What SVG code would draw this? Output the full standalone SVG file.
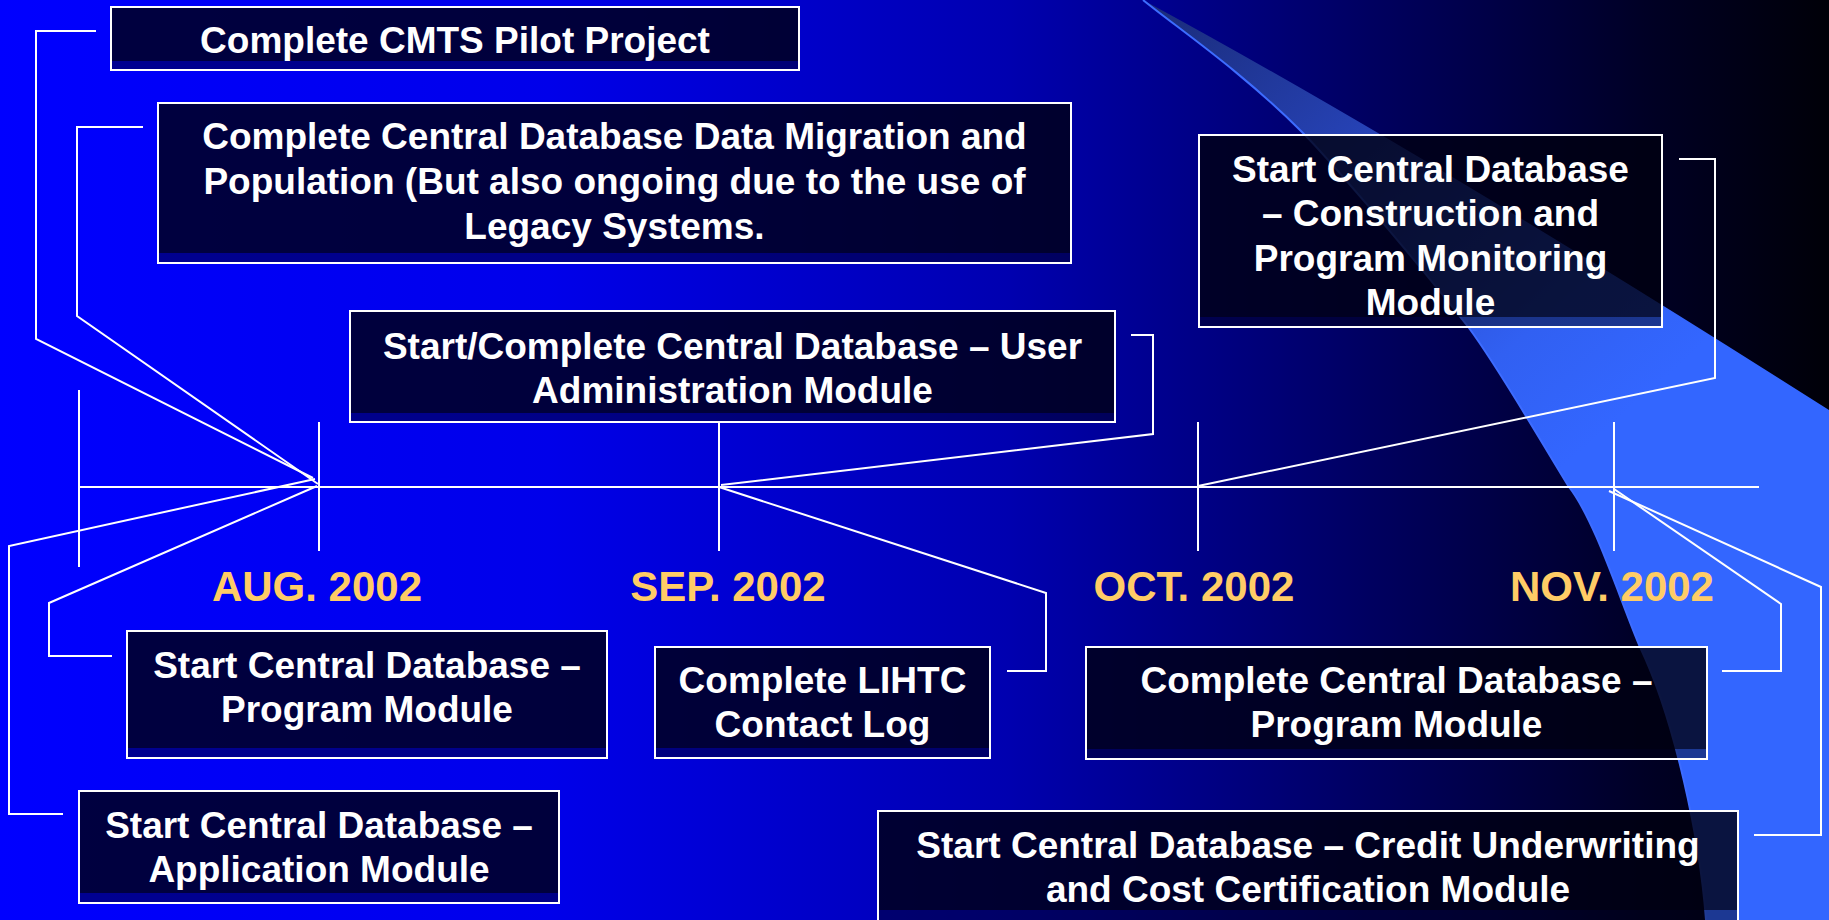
<svg xmlns="http://www.w3.org/2000/svg" width="1829" height="920" viewBox="0 0 1829 920">
<defs>
<linearGradient id="bg" x1="0" y1="0" x2="1829" y2="0" gradientUnits="userSpaceOnUse">
<stop offset="0" stop-color="#0000FF"/>
<stop offset="0.3" stop-color="#0000EA"/>
<stop offset="0.55" stop-color="#0000B0"/>
<stop offset="0.75" stop-color="#000060"/>
<stop offset="0.9" stop-color="#000025"/>
<stop offset="1" stop-color="#000008"/>
</linearGradient>
<linearGradient id="sw" x1="1150" y1="0" x2="1560" y2="470" gradientUnits="userSpaceOnUse">
<stop offset="0" stop-color="#1a2b78"/>
<stop offset="0.45" stop-color="#2846c0"/>
<stop offset="0.8" stop-color="#3160f2"/>
<stop offset="1" stop-color="#3366FF"/>
</linearGradient>
<style>
.box{fill:#000010;fill-opacity:0.8}
.band{fill:#000010;fill-opacity:0.45}
.frame{fill:none;stroke:#FFFFFF;stroke-width:2}
.t{font-family:"Liberation Sans",Arial,sans-serif;font-weight:bold;font-size:37px;fill:#FFFFFF;text-anchor:middle}
.m{font-family:"Liberation Sans",Arial,sans-serif;font-weight:bold;font-size:42px;fill:#FFCC66;text-anchor:middle}
.c{fill:none;stroke:#FFFFFF;stroke-width:2}
</style>
</defs>
<rect x="0" y="0" width="1829" height="920" fill="url(#bg)"/>
<g id="swoosh">
<path d="M1143,0 Q1420,150 1829,410 L1829,920 L1706,920 C1700,840 1675,720 1640,647 C1620,600 1595,520 1569,487 C1540,440 1500,370 1469,328 C1400,240 1320,150 1303,133 C1240,70 1180,30 1143,0 Z" fill="url(#sw)"/>
<path d="M1143,0 C1180,30 1240,70 1303,133 C1320,150 1400,240 1469,328 C1500,370 1540,440 1569,487 C1595,520 1620,600 1640,647 C1675,720 1700,840 1706,920" fill="none" stroke="#3d6cff" stroke-width="2"/>
</g>
<g id="connectors">
<path class="c" d="M79,487 H1759"/>
<path class="c" d="M79,390 V567"/>
<path class="c" d="M319,422 V551"/>
<path class="c" d="M719,422 V551"/>
<path class="c" d="M1198,422 V551"/>
<path class="c" d="M1614,422 V551"/>
<path class="c" d="M96,31 H36 V339 L313,478"/>
<path class="c" d="M143,127 H77 V316 L318,484"/>
<path class="c" d="M63,814 H9 V546 L315,479"/>
<path class="c" d="M112,656 H49 V603 L317,486"/>
<path class="c" d="M1131,335 H1153 V434 L721,485"/>
<path class="c" d="M1679,159 H1715 V378 L1198,486"/>
<path class="c" d="M719,487 L1046,593 V671 H1007"/>
<path class="c" d="M1614,489 L1781,604 V671 H1722"/>
<path class="c" d="M1609,491 L1821,587 V835 H1754"/>
</g>
<g id="n-cmts">
<rect class="box" x="111" y="7" width="688" height="54"/>
<rect class="band" x="111" y="61" width="688" height="9"/>
<rect class="frame" x="111" y="7" width="688" height="63"/>
<text class="t" x="455" y="53">Complete CMTS Pilot Project</text>
</g>
<g id="n-migration">
<rect class="box" x="158" y="103" width="913" height="150"/>
<rect class="band" x="158" y="253" width="913" height="10"/>
<rect class="frame" x="158" y="103" width="913" height="160"/>
<text class="t" x="614.5" y="149">Complete Central Database Data Migration and</text>
<text class="t" x="614.5" y="194">Population (But also ongoing due to the use of</text>
<text class="t" x="614.5" y="239">Legacy Systems.</text>
</g>
<g id="n-useradmin">
<rect class="box" x="350" y="311" width="765" height="102"/>
<rect class="band" x="350" y="413" width="765" height="9"/>
<rect class="frame" x="350" y="311" width="765" height="111"/>
<text class="t" x="732.5" y="359">Start/Complete Central Database – User</text>
<text class="t" x="732.5" y="403">Administration Module</text>
</g>
<g id="n-construction">
<rect class="box" x="1199" y="135" width="463" height="182"/>
<rect class="band" x="1199" y="317" width="463" height="10"/>
<rect class="frame" x="1199" y="135" width="463" height="192"/>
<text class="t" x="1430.5" y="182">Start Central Database</text>
<text class="t" x="1430.5" y="226">– Construction and</text>
<text class="t" x="1430.5" y="271">Program Monitoring</text>
<text class="t" x="1430.5" y="315">Module</text>
</g>
<g id="n-startprogram">
<rect class="box" x="127" y="631" width="480" height="117"/>
<rect class="band" x="127" y="748" width="480" height="10"/>
<rect class="frame" x="127" y="631" width="480" height="127"/>
<text class="t" x="367" y="678">Start Central Database –</text>
<text class="t" x="367" y="722">Program Module</text>
</g>
<g id="n-application">
<rect class="box" x="79" y="791" width="480" height="102"/>
<rect class="band" x="79" y="893" width="480" height="10"/>
<rect class="frame" x="79" y="791" width="480" height="112"/>
<text class="t" x="319" y="838">Start Central Database –</text>
<text class="t" x="319" y="882">Application Module</text>
</g>
<g id="n-lihtc">
<rect class="box" x="655" y="647" width="335" height="101"/>
<rect class="band" x="655" y="748" width="335" height="10"/>
<rect class="frame" x="655" y="647" width="335" height="111"/>
<text class="t" x="822.5" y="693">Complete LIHTC</text>
<text class="t" x="822.5" y="737">Contact Log</text>
</g>
<g id="n-completeprogram">
<rect class="box" x="1086" y="647" width="621" height="102"/>
<rect class="band" x="1086" y="749" width="621" height="10"/>
<rect class="frame" x="1086" y="647" width="621" height="112"/>
<text class="t" x="1396.5" y="693">Complete Central Database –</text>
<text class="t" x="1396.5" y="737">Program Module</text>
</g>
<g id="n-credit">
<rect class="box" x="878" y="811" width="860" height="99"/>
<rect class="band" x="878" y="910" width="860" height="15"/>
<rect class="frame" x="878" y="811" width="860" height="120"/>
<text class="t" x="1308" y="858">Start Central Database – Credit Underwriting</text>
<text class="t" x="1308" y="902">and Cost Certification Module</text>
</g>
<g id="months">
<text class="m" x="317" y="601">AUG. 2002</text>
<text class="m" x="728" y="601">SEP. 2002</text>
<text class="m" x="1194" y="601">OCT. 2002</text>
<text class="m" x="1612" y="601">NOV. 2002</text>
</g>
</svg>
